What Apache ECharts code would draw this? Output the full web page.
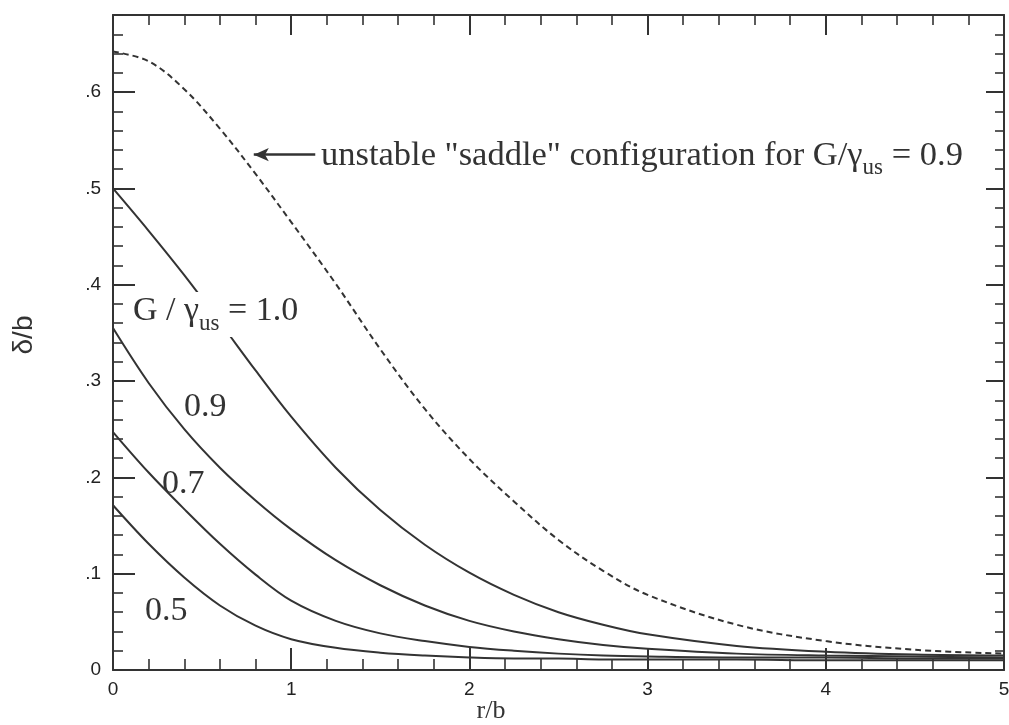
<!DOCTYPE html>
<html><head><meta charset="utf-8">
<script src="https://cdn.jsdelivr.net/npm/echarts@6/dist/echarts.min.js"></script>
<style>html,body{margin:0;padding:0;background:#fff}#c{width:1009px;height:725px}</style>
</head><body><div id="c"></div>
<script>
// r/b sample positions
const xs = [0,0.2,0.4,0.6,0.8,1.0,1.25,1.5,1.75,2.0,2.25,2.5,2.75,3.0,3.5,4.0,4.5,5.0];
// delta/b values
const saddle09 = [0.642,0.632,0.603,0.562,0.515,0.465,0.401,0.333,0.271,0.219,0.175,0.135,0.103,0.078,0.047,0.030,0.021,0.017];
const g10 = [0.500,0.456,0.410,0.361,0.311,0.263,0.210,0.166,0.130,0.101,0.078,0.060,0.047,0.037,0.025,0.019,0.016,0.015];
const g09 = [0.355,0.298,0.250,0.210,0.176,0.146,0.114,0.088,0.067,0.051,0.040,0.032,0.026,0.022,0.017,0.015,0.014,0.013];
const g07 = [0.247,0.205,0.167,0.131,0.099,0.072,0.051,0.038,0.030,0.024,0.020,0.017,0.015,0.014,0.013,0.013,0.012,0.012];
const g05 = [0.171,0.131,0.096,0.067,0.046,0.032,0.023,0.018,0.015,0.013,0.012,0.012,0.011,0.011,0.011,0.010,0.010,0.010];

const xTickLabels = ['0','1','2','3','4','5'];
const yTickLabels = ['0','.1','.2','.3','.4','.5','.6'];
const xTitle = 'r/b';
const yTitle = 'δ/b';

const INK = '#333';
const SERIF = '"Liberation Serif", "DejaVu Serif", serif';
const SANS = '"Liberation Sans", Arial, sans-serif';

const pairs = ys => xs.map((x, i) => [x, ys[i]]);

function xAxisCfg(pos, showLabel, majorLen, minorLen) {
  return {
    type: 'value', position: pos, min: 0, max: 5, interval: 1,
    axisLine: { show: true, onZero: false, lineStyle: { color: INK, width: 2 } },
    axisTick: { show: true, inside: true, length: majorLen, lineStyle: { color: INK, width: 2 } },
    minorTick: { show: true, splitNumber: 5, length: minorLen, lineStyle: { color: INK, width: 1.6 } },
    splitLine: { show: false }, minorSplitLine: { show: false },
    axisLabel: { show: showLabel, margin: 10, color: '#222', fontSize: 19, fontFamily: SANS,
      formatter: v => { const i = Math.round(v); return Math.abs(v - i) < 1e-6 ? xTickLabels[i] : ''; } }
  };
}
function yAxisCfg(pos, interval, showLine, showLabel, len) {
  return {
    type: 'value', position: pos, min: 0, max: 0.68, interval: interval,
    axisLine: { show: showLine, onZero: false, lineStyle: { color: INK, width: 2 } },
    axisTick: { show: true, inside: true, length: len, lineStyle: { color: INK, width: showLine ? 2 : 1.6 } },
    splitLine: { show: false },
    axisLabel: { show: showLabel, margin: 12, color: '#222', fontSize: 19, fontFamily: SANS,
      formatter: v => { const i = Math.round(v * 10); if (Math.abs(v - i / 10) > 1e-6 || i >= yTickLabels.length) return ''; return yTickLabels[i]; } }
  };
}

const chart = echarts.init(document.getElementById('c'), null, { renderer: 'canvas' });
const lineBase = { type: 'line', showSymbol: false, smooth: 0.35, silent: true, xAxisIndex: 0, yAxisIndex: 0 };
chart.setOption({
  animation: false,
  backgroundColor: '#fff',
  grid: { left: 113, right: 5, top: 15, bottom: 55, containLabel: false, outerBoundsMode: 'none' },
  xAxis: [ xAxisCfg('bottom', true, 22, 11), xAxisCfg('top', false, 20, 10) ],
  yAxis: [
    yAxisCfg('left', 0.1, true, true, 22),
    yAxisCfg('left', 0.02, false, false, 10),
    yAxisCfg('right', 0.1, true, false, 18),
    yAxisCfg('right', 0.02, false, false, 9)
  ],
  series: [
    Object.assign({}, lineBase, { name: 'saddle 0.9', data: pairs(saddle09),
      lineStyle: { color: INK, width: 2, type: [6, 4] },
      markLine: { silent: true, symbol: ['none', 'arrow'], symbolSize: [10, 15],
        label: { show: false },
        lineStyle: { color: INK, width: 2.5, type: 'solid' },
        data: [[ { coord: [1.135, 0.535] }, { coord: [0.79, 0.535] } ]] } }),
    Object.assign({}, lineBase, { name: '1.0', data: pairs(g10), lineStyle: { color: INK, width: 2 } }),
    Object.assign({}, lineBase, { name: '0.9', data: pairs(g09), lineStyle: { color: INK, width: 2 } }),
    Object.assign({}, lineBase, { name: '0.7', data: pairs(g07), lineStyle: { color: INK, width: 2 } }),
    Object.assign({}, lineBase, { name: '0.5', data: pairs(g05), lineStyle: { color: INK, width: 2 } })
  ],
  graphic: { elements: [
    { type: 'text', left: 321, top: 138, z: 100, style: {
        text: '{m|unstable "saddle" configuration for G/γ}{s|us}{m| = 0.9}',
        fill: INK,
        rich: { m: { fontSize: 34.5, fontFamily: SERIF, fill: INK, verticalAlign: 'bottom', padding: [0, 0, 6, 0] },
                s: { fontSize: 23, fontFamily: SERIF, fill: INK, verticalAlign: 'bottom' } } } },
    { type: 'text', left: 131, top: 292, z: 100, style: {
        text: '{m|G / γ}{s|us}{m| = 1.0}',
        fill: INK, backgroundColor: '#fff', padding: [2, 2, 2, 2],
        rich: { m: { fontSize: 34, fontFamily: SERIF, fill: INK, verticalAlign: 'bottom', padding: [0, 0, 7, 0] },
                s: { fontSize: 23, fontFamily: SERIF, fill: INK, verticalAlign: 'bottom' } } } },
    { type: 'text', left: 184, top: 390, z: 100, style: { text: '0.9', font: '34px ' + SERIF, fill: INK } },
    { type: 'text', left: 162, top: 467, z: 100, style: { text: '0.7', font: '34px ' + SERIF, fill: INK } },
    { type: 'text', left: 145, top: 594, z: 100, style: { text: '0.5', font: '34px ' + SERIF, fill: INK } },
    { type: 'text', x: 491, y: 711, z: 100, style: { text: xTitle, font: '26px ' + SERIF, fill: INK, align: 'center', verticalAlign: 'middle' } },
    { type: 'text', x: 24, y: 335, rotation: Math.PI / 2, z: 100, style: { text: yTitle, font: '28px ' + SANS, fill: INK, align: 'center', verticalAlign: 'middle' } }
  ] }
});
</script>
</body></html>
